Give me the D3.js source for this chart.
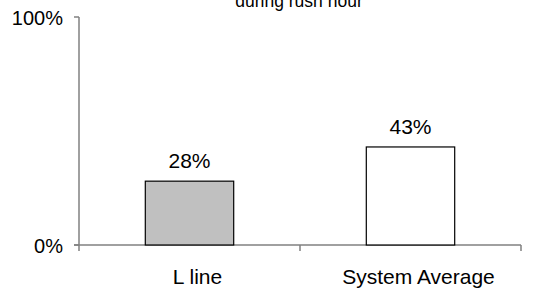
<!DOCTYPE html>
<html><head><meta charset="utf-8">
<script src="https://cdn.jsdelivr.net/npm/d3@7"></script>
<style>body{margin:0;background:#fff}svg{display:block;font-family:"Liberation Sans",Arial,sans-serif}</style>
</head><body>
<script>
const categories = ["L line", "System Average"];
const values = [0.28, 0.43];
const valueLabels = ["28%", "43%"];
const fills = ["#c0c0c0", "#ffffff"];
const yTicks = [0, 1];
const titleText = "during rush hour";

const W = 538, H = 291;
const svg = d3.select("body").append("svg").attr("width", W).attr("height", H);
const x0 = 79, x1 = 521, yTop = 17, yBot = 245;
const x = d3.scaleBand().domain(categories).range([x0, x1]).paddingInner(0.6).paddingOuter(0.3);
const y = d3.scaleLinear().domain([0, 1]).range([yBot, yTop]);

svg.append("text").attr("x", 299).attr("y", 7).attr("text-anchor", "middle")
  .attr("font-size", 17.5).attr("fill", "#000").text(titleText);

// y axis
svg.append("line").attr("x1", x0).attr("x2", x0).attr("y1", yTop).attr("y2", yBot).attr("stroke", "#808080").attr("stroke-width", 1.5);
yTicks.forEach(t => {
  svg.append("line").attr("x1", x0 - 5).attr("x2", x0).attr("y1", y(t)).attr("y2", y(t)).attr("stroke", "#808080").attr("stroke-width", 1.5);
  svg.append("text").attr("x", 63).attr("y", y(t) + 8).attr("text-anchor", "end").attr("font-size", 20).text(d3.format(".0%")(t));
});
// x axis
svg.append("line").attr("x1", x0 - 5).attr("x2", x1).attr("y1", yBot).attr("y2", yBot).attr("stroke", "#808080").attr("stroke-width", 1.5);
const step = (x1 - x0) / categories.length;
d3.range(categories.length + 1).forEach(i => {
  svg.append("line").attr("x1", x0 + i * step).attr("x2", x0 + i * step).attr("y1", yBot).attr("y2", yBot + 6).attr("stroke", "#808080").attr("stroke-width", 1.5);
});

categories.forEach((c, i) => {
  svg.append("rect").attr("x", x(c)).attr("y", y(values[i])).attr("width", x.bandwidth()).attr("height", y(0) - y(values[i]))
    .attr("fill", fills[i]).attr("stroke", "#000").attr("stroke-width", 1.2);
  svg.append("text").attr("x", x(c) + x.bandwidth() / 2).attr("y", y(values[i]) - 13).attr("text-anchor", "middle").attr("font-size", 21).text(valueLabels[i]);
  svg.append("text").attr("x", x(c) + x.bandwidth() / 2 + 8).attr("y", 284).attr("text-anchor", "middle").attr("font-size", 21).text(c);
});
</script>
</body></html>
